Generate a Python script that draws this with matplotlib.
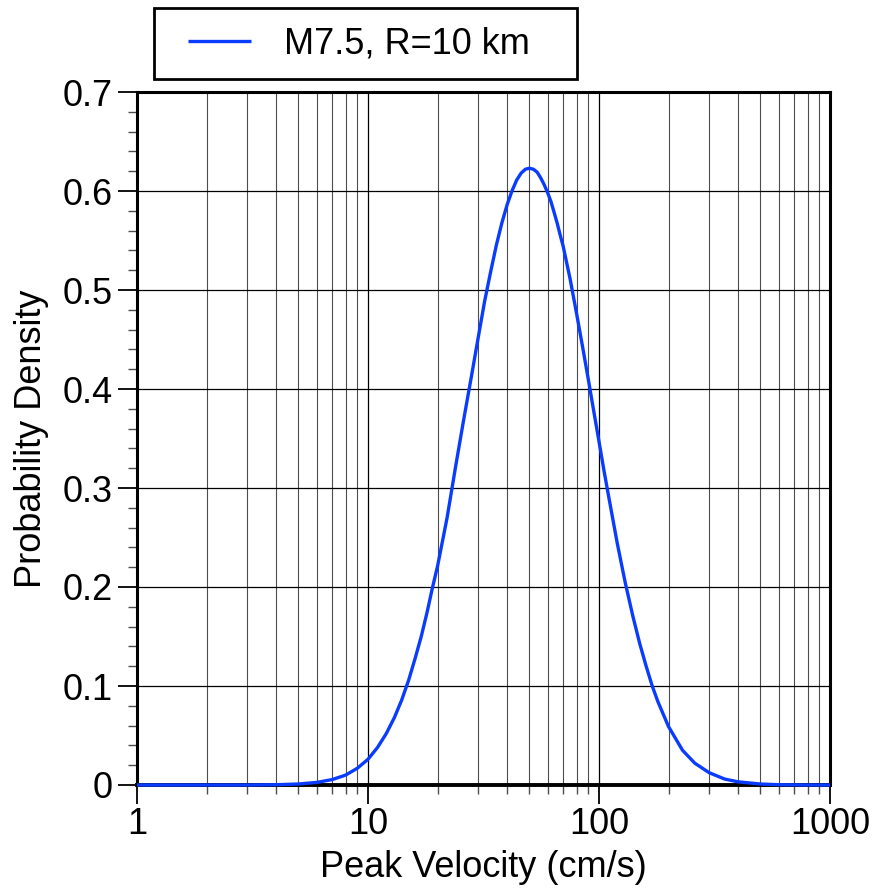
import numpy as np
import matplotlib
matplotlib.use('Agg')
from matplotlib import pyplot as plt
from matplotlib import ticker
from matplotlib.patches import Rectangle

plt.rcParams['font.family'] = ['Liberation Sans', 'DejaVu Sans']

# values
velocity = [1, 2, 3, 4, 5, 6, 7, 8, 9, 10, 11, 12, 13, 14, 15, 16, 17, 18, 19, 20,
            22, 24, 26, 28, 30, 32, 34, 36, 38, 40, 42, 44, 46, 48, 50, 52, 54,
            56, 58, 60, 62, 64, 66, 68, 70, 75, 80, 85, 90, 95, 100, 105, 110,
            120, 130, 140, 150, 160, 170, 180, 200, 230, 260, 300, 350, 400, 500,
            600, 800, 1000]
density = [0.0, 0.0, 0.0, 0.0003, 0.001, 0.0026, 0.0055, 0.010, 0.017, 0.026,
           0.038, 0.052, 0.068, 0.086, 0.106, 0.128, 0.150, 0.174, 0.199, 0.221,
           0.27, 0.323, 0.370, 0.412, 0.452, 0.489, 0.519, 0.546, 0.568, 0.586,
           0.600, 0.611, 0.618, 0.622, 0.623, 0.622, 0.619, 0.613, 0.606, 0.598,
           0.589, 0.578, 0.567, 0.555, 0.544, 0.511, 0.476, 0.442, 0.409, 0.377,
           0.347, 0.318, 0.292, 0.244, 0.204, 0.171, 0.143, 0.120, 0.100, 0.084,
           0.059, 0.035, 0.022, 0.0124, 0.006, 0.0032, 0.001, 0.0003, 0.0, 0.0]
series_label = 'M7.5, R=10 km'
yticks = [0, 0.1, 0.2, 0.3, 0.4, 0.5, 0.6, 0.7]
ytick_labels = ['0', '0.1', '0.2', '0.3', '0.4', '0.5', '0.6', '0.7']
xticks = [1, 10, 100, 1000]
xtick_labels = ['1', '10', '100', '1000']

fs = 26
fig = plt.figure(figsize=(8.75, 8.92), dpi=100)
ax = fig.add_axes([137/875, 1-785/892, (830-137)/875, (785-92)/892])

line, = ax.plot(velocity, density, color='#0a3cff', lw=2.4, label=series_label,
                solid_capstyle='butt', solid_joinstyle='round', zorder=3,
                clip_on=False)

ax.set_xscale('log')
ax.set_xlim(1, 1000)
ax.set_ylim(0, 0.7)
ax.set_xticks(xticks)
ax.set_xticklabels(xtick_labels)
ax.xaxis.set_minor_locator(ticker.LogLocator(base=10, subs=np.arange(2, 10)))
ax.xaxis.set_minor_formatter(ticker.NullFormatter())
ax.set_yticks(yticks)
ax.set_yticklabels(ytick_labels)
ax.yaxis.set_minor_locator(ticker.MultipleLocator(0.02))

ax.grid(which='major', axis='both', color='black', lw=0.9)
ax.grid(which='minor', axis='x', color='0.3', lw=0.8)

ax.tick_params(which='major', direction='out', length=13.5, width=1.3,
               labelsize=fs)
ax.tick_params(axis='y', which='major', pad=4)
ax.tick_params(axis='x', which='major', pad=2)
ax.tick_params(which='minor', direction='out', length=6.5, width=1.0, color='0.3')

for s in ax.spines.values():
    s.set_linewidth(2.2)
ax.spines['bottom'].set_linewidth(2.8)

ax.set_xlabel('Peak Velocity (cm/s)', fontsize=fs, labelpad=6)
ax.set_ylabel('Probability Density', fontsize=fs, labelpad=10)

# legend box above the axes
fig.patches.append(Rectangle((154/875, 1-79/892), (577-154)/875, 71/892,
                             transform=fig.transFigure, fill=False,
                             edgecolor='black', lw=2.0))
fig.legend(handles=[line], loc='center left', bbox_to_anchor=(188/875, 1-44/892),
           frameon=False, fontsize=fs, handlelength=1.75, handletextpad=0.9,
           borderpad=0, borderaxespad=0)

fig.savefig('out.png', dpi=100)
